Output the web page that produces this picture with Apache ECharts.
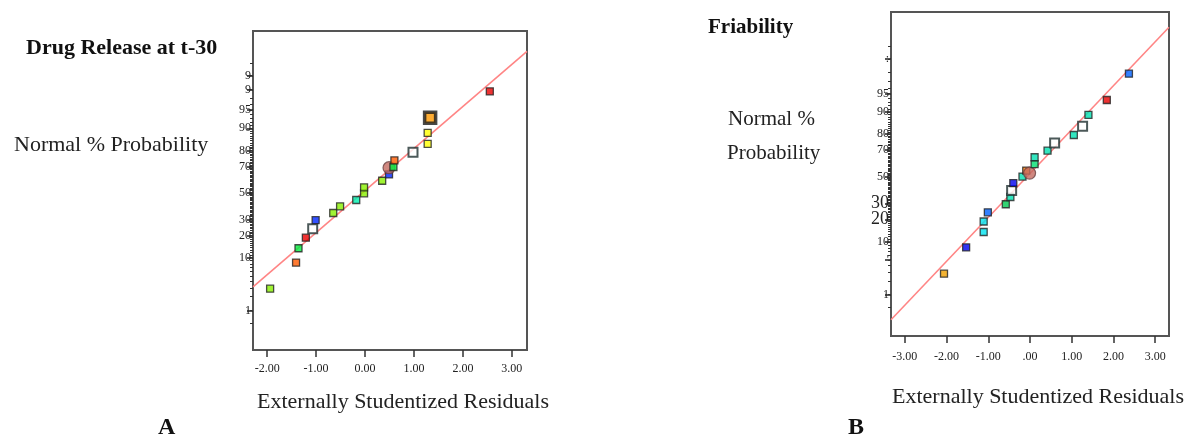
<!DOCTYPE html>
<html>
<head>
<meta charset="utf-8">
<script src="https://cdn.jsdelivr.net/npm/echarts@6/dist/echarts.min.js"></script>
<style>
html,body{margin:0;padding:0;background:#fff;}
#chart{width:1191px;height:435px;}
</style>
</head>
<body>
<div id="chart"></div>
<script>
// ---------- DATA ----------
// Panel A: Drug Release at t-30  (residual, normal % probability, marker kind)
var residA = [-1.94, -1.41, -1.36, -1.21, -1.07, -1.01, -0.65, -0.51, -0.18, -0.02, -0.02, 0.35, 0.49, 0.49, 0.58, 0.60, 0.98, 1.28, 1.28, 1.33, 2.55];
var probA  = [2.9, 8.4, 13.7, 18.8, 24.0, 29.5, 34.6, 39.6, 44.5, 49.8, 54.5, 59.6, 64.4, 69.2, 69.7, 74.1, 79.0, 83.5, 88.3, 93.2, 97.8];
var kindA  = ['lime','orange','green','red','hollow','blue','lime','lime','teal','lime','lime','lime','blue','circle','green','orange','hollow','yellow','yellow','boxed','red'];
var fitLineA = [[-2.29, 3.14], [3.31, 99.75]];
var xTicksA = [-2, -1, 0, 1, 2, 3];
var xTickTextA = ['-2.00', '-1.00', '0.00', '1.00', '2.00', '3.00'];
var yTickPctA = [1, 10, 20, 30, 50, 70, 80, 90, 95, 98, 99];
var yTickTextA = ['1', '10', '20', '30', '50', '70', '80', '90', '95', '9', '9'];

// Panel B: Friability
var residB = [-2.06, -1.53, -1.11, -1.11, -1.01, -0.58, -0.47, -0.44, -0.40, -0.18, -0.09, -0.01, 0.11, 0.11, 0.42, 0.59, 1.05, 1.26, 1.40, 1.84, 2.37];
var probB  = [2.8, 8.2, 13.8, 18.9, 24.2, 29.4, 34.5, 39.4, 45.1, 50.2, 54.9, 52.9, 59.8, 65.0, 69.7, 74.8, 79.5, 84.1, 88.9, 93.5, 97.9];
var kindB  = ['amber','navy','cyan','cyan','azure','green2','aqua','hollow','navy','aqua','orange2','circle','sea','aqua','aqua','hollow','aqua','hollow','aqua','red','azure'];
var fitLineB = [[-3.33, 0.24], [3.33, 99.84]];
var xTicksB = [-3, -2, -1, 0, 1, 2, 3];
var xTickTextB = ['-3.00', '-2.00', '-1.00', '.00', '1.00', '2.00', '3.00'];
var yTickPctB = [1, 5, 10, 20, 30, 50, 70, 80, 90, 95, 99];
var yTickTextB = ['1', '\'', '10', '{big|20}', '{big|30}', '50', '70', '80', '90', '95', ':'];

var minorPct = [];
for (var mp = 1; mp <= 99; mp++) minorPct.push(mp);
minorPct.push(0.5, 99.5);

// ---------- STYLES ----------
var kindStyle = {
  lime:   {symbol:'rect', size:7, fill:'#88f000', border:'#222', bw:1.3},
  orange: {symbol:'rect', size:7, fill:'#ff5a00', border:'#222', bw:1.3},
  green:  {symbol:'rect', size:7, fill:'#00f040', border:'#222', bw:1.3},
  red:    {symbol:'rect', size:7, fill:'#e80000', border:'#222', bw:1.3},
  blue:   {symbol:'rect', size:7, fill:'#0026ff', border:'#222', bw:1.3},
  teal:   {symbol:'rect', size:7, fill:'#00f0b0', border:'#222', bw:1.3},
  yellow: {symbol:'rect', size:7, fill:'#ffff00', border:'#222', bw:1.3},
  hollow: {symbol:'rect', size:9, fill:'#ffffff', border:'#1f2f2f', bw:2},
  boxed:  {symbol:'rect', size:11, fill:'#ff9900', border:'#1a1a1a', bw:3.5},
  circle: {symbol:'circle', size:12, fill:'#c46a60', border:'#6a4040', bw:1.2},
  amber:  {symbol:'rect', size:7, fill:'#f0a000', border:'#222', bw:1.3},
  navy:   {symbol:'rect', size:7, fill:'#0000f0', border:'#222', bw:1.3},
  cyan:   {symbol:'rect', size:7, fill:'#00e4f0', border:'#222', bw:1.3},
  azure:  {symbol:'rect', size:7, fill:'#0060ff', border:'#222', bw:1.3},
  green2: {symbol:'rect', size:7, fill:'#00c850', border:'#222', bw:1.3},
  aqua:   {symbol:'rect', size:7, fill:'#00e0b0', border:'#222', bw:1.3},
  sea:    {symbol:'rect', size:7, fill:'#00e070', border:'#222', bw:1.3},
  orange2:{symbol:'rect', size:7, fill:'#ff7a00', border:'#222', bw:1.3}
};

// ---------- normal probability scale (probit) ----------
function probit(p) {
  var a = [-3.969683028665376e+01, 2.209460984245205e+02, -2.759285104469687e+02, 1.383577518672690e+02, -3.066479806614716e+01, 2.506628277459239e+00];
  var b = [-5.447609879822406e+01, 1.615858368580409e+02, -1.556989798598866e+02, 6.680131188771972e+01, -1.328068155288572e+01];
  var c = [-7.784894002430293e-03, -3.223964580411365e-01, -2.400758277161838e+00, -2.549732539343734e+00, 4.374664141464968e+00, 2.938163982698783e+00];
  var d = [7.784695709041462e-03, 3.224671290700398e-01, 2.445134137142996e+00, 3.754408661907416e+00];
  var plow = 0.02425, phigh = 1 - plow, q, r;
  if (p < plow) {
    q = Math.sqrt(-2 * Math.log(p));
    return (((((c[0]*q+c[1])*q+c[2])*q+c[3])*q+c[4])*q+c[5]) / ((((d[0]*q+d[1])*q+d[2])*q+d[3])*q+1);
  }
  if (p > phigh) {
    q = Math.sqrt(-2 * Math.log(1 - p));
    return -(((((c[0]*q+c[1])*q+c[2])*q+c[3])*q+c[4])*q+c[5]) / ((((d[0]*q+d[1])*q+d[2])*q+d[3])*q+1);
  }
  q = p - 0.5; r = q * q;
  return (((((a[0]*r+a[1])*r+a[2])*r+a[3])*r+a[4])*r+a[5])*q / (((((b[0]*r+b[1])*r+b[2])*r+b[3])*r+b[4])*r+1);
}
function z(pct) { return probit(pct / 100); }

function pointsData(resid, prob, kind) {
  return resid.map(function (x, i) {
    var s = kindStyle[kind[i]];
    return {
      value: [x, z(prob[i])],
      symbol: s.symbol,
      symbolSize: s.size,
      itemStyle: {color: s.fill, borderColor: s.border, borderWidth: s.bw}
    };
  });
}
function labelFormatter(pcts, texts) {
  var zs = pcts.map(z);
  return function (v) {
    for (var i = 0; i < zs.length; i++) if (Math.abs(zs[i] - v) < 1e-6) return texts[i];
    return '';
  };
}
function xFormatter(vals, texts) {
  return function (v) {
    for (var i = 0; i < vals.length; i++) if (Math.abs(vals[i] - v) < 1e-6) return texts[i];
    return '';
  };
}

var SERIF = '"Liberation Serif", "DejaVu Serif", serif';
var AXC = '#555';

function xAxisDef(grid, min, max, ticks, texts, margin) {
  return {
    type: 'value', gridIndex: grid, min: min, max: max,
    splitLine: {show: false},
    axisLine: {show: true, onZero: false, lineStyle: {color: AXC, width: 2}},
    axisTick: {show: true, inside: false, length: 7, customValues: ticks, lineStyle: {color: '#333', width: 1.5}},
    axisLabel: {show: true, customValues: ticks, formatter: xFormatter(ticks, texts), margin: margin,
      fontFamily: SERIF, fontSize: 12, color: '#222'}
  };
}
function yAxisMajor(grid, min, max, pcts, texts) {
  return {
    type: 'value', gridIndex: grid, min: min, max: max, position: 'left',
    splitLine: {show: false},
    axisLine: {show: true, onZero: false, lineStyle: {color: AXC, width: 2}},
    axisTick: {show: true, inside: false, length: 6, customValues: pcts.map(z), lineStyle: {color: '#222', width: 1.5}},
    axisLabel: {show: true, customValues: pcts.map(z), formatter: labelFormatter(pcts, texts), margin: 2,
      fontFamily: SERIF, fontSize: 12, color: '#222',
      rich: {big: {fontFamily: SERIF, fontSize: 18, color: '#222'}}}
  };
}
function yAxisMinor(grid, min, max) {
  return {
    type: 'value', gridIndex: grid, min: min, max: max, position: 'left',
    splitLine: {show: false},
    axisLine: {show: false, onZero: false},
    axisTick: {show: true, inside: false, length: 3, customValues: minorPct.map(z), lineStyle: {color: '#333', width: 1}},
    axisLabel: {show: false}
  };
}

var chart = echarts.init(document.getElementById('chart'), null, {renderer: 'canvas'});
var option = {
  backgroundColor: '#ffffff',
  animation: false,
  title: [
    {text: 'Drug Release at t-30', left: 21, top: 32, textStyle: {fontFamily: SERIF, fontSize: 22, fontWeight: 'bold', color: '#111'}},
    {text: 'Normal % Probability', left: 9, top: 129, textStyle: {fontFamily: SERIF, fontSize: 22, fontWeight: 'normal', color: '#222'}},
    {text: 'Externally Studentized Residuals', left: 252, top: 386, textStyle: {fontFamily: SERIF, fontSize: 22, fontWeight: 'normal', color: '#222'}},
    {text: 'A', left: 153, top: 411, textStyle: {fontFamily: SERIF, fontSize: 24, fontWeight: 'bold', color: '#111'}},
    {text: 'Friability', left: 703, top: 12, textStyle: {fontFamily: SERIF, fontSize: 21, fontWeight: 'bold', color: '#111'}},
    {text: 'Normal %', left: 723, top: 104, textStyle: {fontFamily: SERIF, fontSize: 21, fontWeight: 'normal', color: '#222'}},
    {text: 'Probability', left: 722, top: 138, textStyle: {fontFamily: SERIF, fontSize: 21, fontWeight: 'normal', color: '#222'}},
    {text: 'Externally Studentized Residuals', left: 887, top: 381, textStyle: {fontFamily: SERIF, fontSize: 22, fontWeight: 'normal', color: '#222'}},
    {text: 'B', left: 843, top: 411, textStyle: {fontFamily: SERIF, fontSize: 24, fontWeight: 'bold', color: '#111'}}
  ],
  grid: [
    {left: 253, top: 31, width: 274, height: 319, show: true, borderColor: AXC, borderWidth: 2, backgroundColor: 'transparent'},
    {left: 891, top: 12, width: 278, height: 324, show: true, borderColor: AXC, borderWidth: 2, backgroundColor: 'transparent'}
  ],
  xAxis: [
    xAxisDef(0, -2.29, 3.31, xTicksA, xTickTextA, 13),
    xAxisDef(1, -3.33, 3.33, xTicksB, xTickTextB, 15)
  ],
  yAxis: [
    yAxisMajor(0, -3.11, 3.21, yTickPctA, yTickTextA),
    yAxisMinor(0, -3.11, 3.21),
    yAxisMajor(1, -3.14, 3.25, yTickPctB, yTickTextB),
    yAxisMinor(1, -3.14, 3.25)
  ],
  series: [
    {type: 'line', xAxisIndex: 0, yAxisIndex: 0, symbol: 'none', silent: true, z: 1,
      data: fitLineA.map(function (p) { return [p[0], z(p[1])]; }),
      lineStyle: {color: '#ff8585', width: 1.6}},
    {type: 'scatter', xAxisIndex: 0, yAxisIndex: 0, z: 3, data: pointsData(residA, probA, kindA)},
    {type: 'line', xAxisIndex: 1, yAxisIndex: 2, symbol: 'none', silent: true, z: 1,
      data: fitLineB.map(function (p) { return [p[0], z(p[1])]; }),
      lineStyle: {color: '#ff8585', width: 1.6}},
    {type: 'scatter', xAxisIndex: 1, yAxisIndex: 2, z: 3, data: pointsData(residB, probB, kindB)}
  ]
};
chart.setOption(option);
</script>
</body>
</html>
